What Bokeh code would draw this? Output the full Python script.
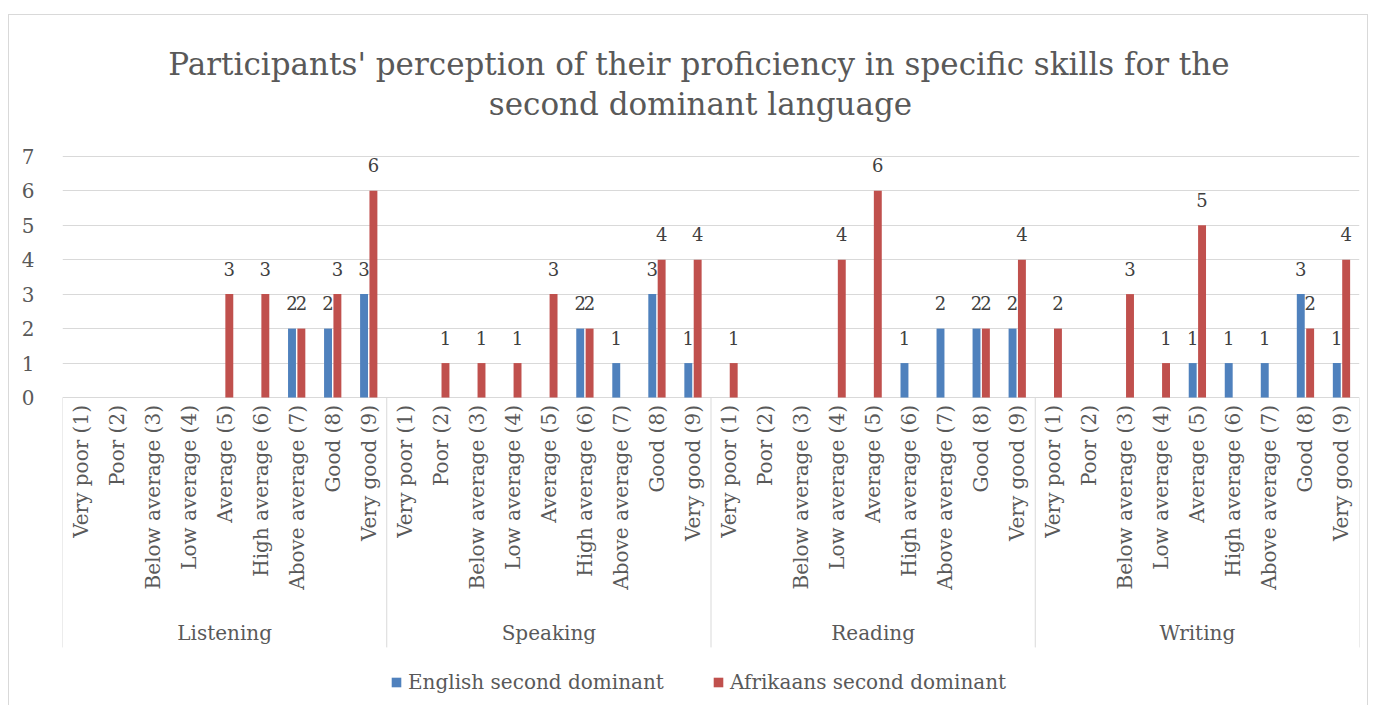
import math
from bokeh.plotting import figure
from bokeh.models import Range1d, FixedTicker, ColumnDataSource
from bokeh.core.properties import value
from bokeh.embed import file_html
from bokeh.resources import INLINE

# ---------------- data ----------------
TITLE_LINES = [
    "Participants' perception of their proficiency in specific skills for the",
    "second dominant language",
]
SKILLS = ["Listening", "Speaking", "Reading", "Writing"]
LEVELS = ["Very poor (1)", "Poor (2)", "Below average (3)", "Low average (4)",
          "Average (5)", "High average (6)", "Above average (7)", "Good (8)",
          "Very good (9)"]
SERIES = ["English second dominant", "Afrikaans second dominant"]

ENG_LISTENING = [0, 0, 0, 0, 0, 0, 2, 2, 3]
ENG_SPEAKING = [0, 0, 0, 0, 0, 2, 1, 3, 1]
ENG_READING = [0, 0, 0, 0, 0, 1, 2, 2, 2]
ENG_WRITING = [0, 0, 0, 0, 1, 1, 1, 3, 1]

AFR_LISTENING = [0, 0, 0, 0, 3, 3, 2, 3, 6]
AFR_SPEAKING = [0, 1, 1, 1, 3, 2, 0, 4, 4]
AFR_READING = [1, 0, 0, 4, 6, 0, 0, 2, 4]
AFR_WRITING = [2, 0, 3, 1, 5, 0, 0, 2, 4]

Y_TICKS = [0, 1, 2, 3, 4, 5, 6, 7]

# ---------------- style / layout ----------------
FONT = "DejaVu Serif"
BLUE = "#4F81BD"
RED = "#C0504D"
GRID = "#D9D9D9"
TXT = "#595959"
LAB = "#404040"

W, H = 1360, 691
PPU = 34.43          # px per y unit
Y0_PAGE = 396.5      # page y of value 0
FRAME_TOP = 15
FRAME_BOT = 705
PPX = (1357 - 62) / 36.0

def ypix(py):
    return (Y0_PAGE - py) / PPU

def xpix(px):
    return (px - 62) / PPX

english = ENG_LISTENING + ENG_SPEAKING + ENG_READING + ENG_WRITING
afrikaans = AFR_LISTENING + AFR_SPEAKING + AFR_READING + AFR_WRITING
n = len(LEVELS)
N = n * len(SKILLS)
xs = [i + 0.5 for i in range(N)]
OFF = 0.13
BW = 0.22

p = figure(width=W, height=H,
           x_range=Range1d(0, N), y_range=Range1d(ypix(FRAME_BOT), ypix(FRAME_TOP)),
           x_axis_location=None, toolbar_location=None, output_backend="svg",
           min_border_left=53, min_border_right=10, min_border_top=0, min_border_bottom=0)
p.margin = (14, 0, 0, 8)
p.styles = {"border-top": "1px solid #D9D9D9", "border-left": "1px solid #D9D9D9",
            "border-right": "1px solid #D9D9D9", "box-sizing": "border-box"}
p.outline_line_color = None
p.background_fill_color = "white"
p.border_fill_color = "white"

ticker = FixedTicker(ticks=Y_TICKS)
p.yaxis.ticker = ticker
p.ygrid.ticker = ticker
p.ygrid.grid_line_color = GRID
p.ygrid.grid_line_width = 1
p.xgrid.grid_line_color = None
p.yaxis.axis_line_color = None
p.yaxis.major_tick_line_color = None
p.yaxis.minor_tick_line_color = None
p.yaxis.major_label_standoff = 22
p.yaxis.major_label_text_font = FONT
p.yaxis.major_label_text_font_size = "20px"
p.yaxis.major_label_text_color = TXT

# separators of the category axis
seps = [i * n for i in range(len(SKILLS) + 1)]
p.segment(x0=seps, y0=[0] * len(seps), x1=seps, y1=[ypix(646)] * len(seps),
          line_color=GRID, line_width=1)

src = ColumnDataSource(dict(xe=[x - OFF for x in xs], xa=[x + OFF for x in xs],
                            eng=english, afr=afrikaans))
p.vbar(x="xe", top="eng", width=BW, source=src, fill_color=BLUE, line_color=None,
       legend_label=SERIES[0])
p.vbar(x="xa", top="afr", width=BW, source=src, fill_color=RED, line_color=None,
       legend_label=SERIES[1])

# data labels
GAP = 25.5 / PPU
lx, ly, lt = [], [], []
for x, v in zip(xs, english):
    if v:
        lx.append(x - OFF); ly.append(v + GAP); lt.append(str(v))
for x, v in zip(xs, afrikaans):
    if v:
        lx.append(x + OFF); ly.append(v + GAP); lt.append(str(v))
p.text(x=lx, y=ly, text=lt, text_align="center", text_baseline="alphabetic",
       text_font=value(FONT), text_font_size="18px", text_color=LAB)

# category tick labels (rotated)
p.text(x=xs, y=[ypix(404)] * N, text=LEVELS * len(SKILLS), angle=math.pi / 2,
       text_align="right", text_baseline="middle",
       text_font=value(FONT), text_font_size="20px", text_color=TXT)

# group labels
p.text(x=[i * n + n / 2 for i in range(len(SKILLS))], y=[ypix(632)] * len(SKILLS),
       text=SKILLS, text_align="center", text_baseline="middle",
       text_font=value(FONT), text_font_size="20px", text_color=TXT)

# title
p.text(x=[xpix(697.5), xpix(699)], y=[ypix(63), ypix(103)], text=TITLE_LINES,
       text_align="center", text_baseline="middle",
       text_font=value(FONT), text_font_size="31px", text_color=TXT)

leg = p.legend[0]
leg.orientation = "horizontal"
leg.location = (328, 12)
leg.border_line_color = None
leg.background_fill_alpha = 0
leg.padding = 0
leg.margin = 0
leg.spacing = 48
leg.glyph_width = 12
leg.glyph_height = 12
leg.label_standoff = 6
leg.label_text_font = FONT
leg.label_text_font_size = "20px"
leg.label_text_color = TXT

open("out.html", "w").write(file_html(p, INLINE))
